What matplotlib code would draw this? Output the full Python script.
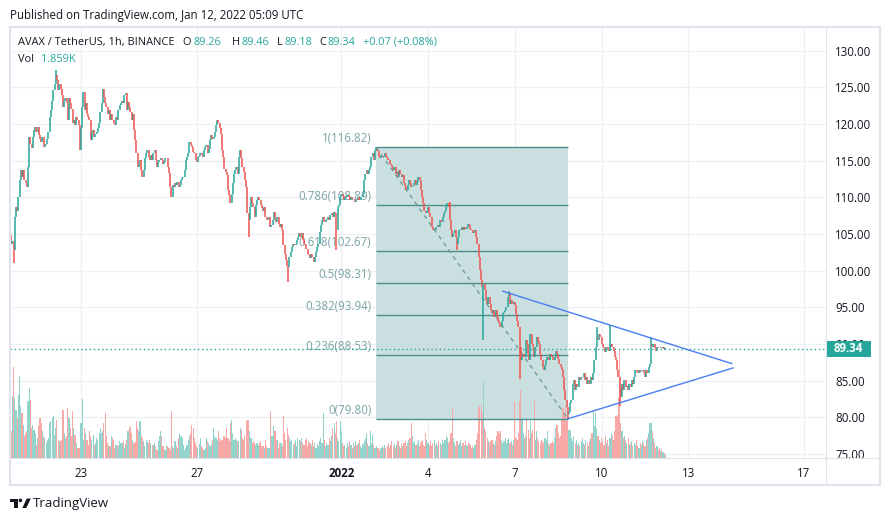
import numpy as np
import pandas as pd
import matplotlib
matplotlib.use("Agg")
import matplotlib.pyplot as plt
import matplotlib.dates as mdates
import matplotlib.transforms as mtransforms
from matplotlib.patches import Rectangle, Polygon, Ellipse
from matplotlib.lines import Line2D

plt.rcParams['font.family'] = ['Open Sans', 'DejaVu Sans']

# ---------------- data (AVAX / USDT, 1h) ----------------
last_bar = "2022-01-12 05:00"
first_open = 104.0

closes = [
    # Dec 20 - Dec 26
    104.8, 103.7, 104.1, 102.8, 107.3, 108.7, 108.2, 110.1, 112.3,
    113.7, 112.8, 113.7, 112.3, 111.9, 111.4, 114.2, 118.2, 117.3,
    116.7, 118.2, 119.2, 119.6, 118.9, 119.6, 118.5, 118.0, 117.6,
    118.2, 116.9, 117.1, 117.3, 118.0, 118.9, 121.0, 121.9, 123.2,
    124.6, 125.5, 126.7, 126.0, 124.6, 125.5, 124.8, 123.9, 122.3,
    123.2, 123.5, 122.8, 120.5, 123.5, 122.8, 122.1, 120.1, 120.5,
    119.8, 121.0, 120.5, 119.8, 116.4, 119.4, 122.3, 124.4, 121.9,
    122.8, 121.4, 121.0, 120.5, 117.8, 118.9, 119.2, 118.2, 118.7,
    118.9, 119.4, 120.1, 121.7, 122.8, 124.8, 123.7, 122.8, 122.3,
    121.4, 121.9, 120.5, 121.4, 120.5, 120.1, 119.8, 121.0, 120.5,
    121.9, 122.6, 122.8, 123.2, 122.8, 123.9, 124.2, 121.9, 123.0,
    122.3, 121.7, 120.5, 121.4, 119.2, 117.8, 116.0, 114.2, 114.6,
    115.1, 113.7, 112.8, 113.7, 115.3, 116.0, 116.4, 115.5, 115.1,
    115.8, 115.1, 116.0, 116.4, 115.1, 114.2, 114.8, 115.1, 115.3,
    115.1, 114.6, 114.8, 115.3, 115.3, 114.2, 113.3, 111.4, 110.1,
    # Dec 26 - Jan 1
    111.7, 111.4, 111.9, 111.7, 112.1, 111.4, 111.7, 112.3, 112.6, 112.8,
    113.7, 115.1, 115.5, 116.0, 117.6, 117.1, 116.9, 116.2, 116.0, 115.1,
    114.8, 115.5, 115.7, 116.0, 115.8, 115.5, 116.4, 116.9, 117.1, 116.0,
    116.6, 117.8, 118.5, 118.0, 118.2, 118.9, 119.8, 120.5, 120.1, 119.4,
    118.7, 116.4, 115.5, 113.9, 113.5, 113.0, 111.0, 110.3, 109.2, 110.5,
    111.9, 113.2, 113.7, 114.2, 113.2, 115.5, 116.4, 115.3, 114.2, 113.5,
    112.3, 111.4, 107.8, 106.9, 108.7, 110.1, 109.2, 108.7, 107.3, 108.9,
    109.6, 110.1, 109.6, 108.9, 108.5, 108.2, 108.7, 107.3, 106.9, 107.1,
    107.3, 106.0, 106.2, 106.9, 108.0, 107.3, 106.7, 107.3, 106.4, 106.0,
    106.4, 105.5, 103.5, 102.3, 101.4, 100.7, 100.5, 101.9, 102.6, 103.2,
    103.7, 103.5, 103.7, 104.2, 104.6, 105.1, 104.6, 105.1, 104.2, 103.7,
    103.5, 103.0, 102.3, 102.1, 101.7, 102.3, 101.9, 101.2, 101.9, 102.6,
    103.2, 103.7, 105.3, 106.2, 106.9, 107.3, 106.7, 106.9, 107.1, 107.3,
    106.9, 107.6, 107.8, 107.3, 108.0, 107.8, 105.5, 108.7, 108.9,
    # Jan 1 - Jan 6
    110.1, 110.5, 110.2, 109.6, 109.9, 110.1, 110.3, 110.0, 109.6, 110.1,
    109.8, 109.8, 109.4, 109.7, 109.6, 110.1, 109.6, 110.0, 110.1, 110.5,
    112.3, 113.2, 113.7, 113.2, 113.7, 114.1, 115.5, 116.0, 115.1, 116.4,
    116.6, 116.3, 115.5, 115.3, 115.6, 115.7, 115.5, 116.0, 115.7, 115.3,
    115.1, 114.6, 114.4, 114.2, 113.7, 114.2, 113.2, 113.4, 112.8, 113.7,
    113.2, 112.8, 113.0, 111.9, 111.5, 111.0, 111.7, 112.3, 111.9, 111.4,
    111.6, 111.9, 112.3, 111.7, 112.1, 112.8, 112.3, 111.0, 110.1,
    109.2, 108.2, 107.8, 108.2, 108.7, 107.8, 107.3, 106.0, 105.5, 105.7,
    105.5, 106.0, 106.2, 106.0, 106.9, 106.6, 107.3, 107.8, 108.2, 108.7,
    109.2, 108.7, 106.9, 105.5, 104.6, 105.1, 105.5, 104.6, 103.7, 104.6,
    105.5, 105.7, 106.0, 105.5, 106.0, 105.7, 106.0, 106.4, 106.2, 105.7,
    105.5, 105.1, 105.3, 105.5, 104.6, 103.7, 101.9, 100.1, 98.7, 97.8,
    98.2, 97.3, 96.0, 95.5, 96.4, 95.5, 94.6, 94.2, 94.6, 93.7,
    94.6, 93.7, 93.2, 92.8, 92.3, 93.2, 94.2, 94.4,
    # Jan 6 - Jan 12
    94.6, 95.1, 96.4, 96.9, 95.5, 96.0, 95.5, 95.7, 95.3, 94.1,
    93.2, 92.3, 89.6, 87.8, 88.2, 88.7, 88.2, 90.5, 90.0, 88.7,
    87.8, 91.4, 90.0, 89.6, 88.2, 89.6, 91.0, 90.4, 90.0, 88.7,
    87.8, 86.9, 86.4, 87.2, 87.8, 88.2, 87.8, 88.7, 88.4, 88.2,
    87.8, 88.2, 89.1, 88.7, 87.9, 87.3, 86.9, 86.4, 85.5,
    83.7, 82.3, 81.4, 80.5, 80.7, 81.9, 82.3, 84.6, 85.1,
    83.7, 84.6, 84.1, 85.5, 85.1, 85.3, 85.5, 86.0, 85.1, 85.5,
    84.6, 85.1, 84.6, 85.5, 85.1, 86.0, 87.8, 89.6, 91.0, 90.5,
    91.4, 91.0, 90.0, 89.6, 89.4, 88.9, 89.6, 89.3, 89.1, 89.6,
    90.0, 89.6, 89.1, 88.2, 87.8, 86.4, 85.5, 84.1, 82.8, 84.6,
    83.7, 85.1, 84.1, 84.3, 83.7, 84.6, 84.1, 85.1, 84.6, 85.5,
    86.4, 86.2, 86.0, 86.4, 86.2, 86.3, 86.4, 86.0, 85.5, 86.4,
    86.0, 86.9, 87.3, 90.0, 89.6, 90.0, 89.4, 89.1, 89.6, 89.5,
    89.4, 89.6, 89.4, 89.6, 89.26, 89.34,
]

volumes = [
    27, 27, 62, 91, 60, 48, 40, 63, 82, 52, 45, 33, 22, 25, 27, 57, 70, 58, 30, 33,
    28, 25, 13, 20, 32, 40, 35, 27, 22, 20, 15, 18, 20, 35, 37, 40, 42, 23, 30, 38,
    18, 17, 17, 18, 48, 25, 20, 22, 50, 40, 30, 22, 47, 30, 23, 15, 10, 10, 10, 35,
    59, 18, 30, 25, 18, 13, 27, 22, 18, 23, 13, 15, 20, 18, 25, 30, 25, 27, 35, 45,
    22, 15, 12, 12, 22, 20, 18, 10, 13, 13, 12, 17, 15, 15, 17, 10, 14, 18, 27, 30,
    32, 25, 18, 15, 17, 37, 30, 27, 37, 22, 20, 17, 12, 18, 16, 15, 18, 15, 13, 13,
    15, 12, 8, 17, 22, 27, 22, 12, 8, 8, 12, 12, 10, 8, 47, 12, 10, 17, 12, 10,
    20, 25, 22, 20, 13, 8, 10, 13, 18, 22, 25, 33, 30, 20, 15, 12, 10, 14, 20, 12,
    10, 8, 10, 20, 17, 15, 12, 14, 18, 30, 22, 20, 18, 27, 20, 17, 18, 22, 22, 20,
    30, 20, 17, 35, 38, 25, 18, 20, 18, 17, 17, 30, 28, 20, 18, 22, 37, 38, 38, 27,
    20, 15, 17, 15, 13, 15, 13, 15, 17, 12, 12, 10, 18, 12, 10, 10, 47, 22, 22, 32,
    27, 18, 18, 10, 15, 15, 12, 42, 25, 18, 30, 23, 20, 17, 18, 13,
    15, 18, 12, 20, 18, 17, 20, 15, 13, 18, 20, 12, 17, 15, 13, 18, 12, 15, 10, 14,
    12, 17, 20, 15, 45, 18, 12, 15, 13, 20, 17, 22, 30, 35, 25, 37, 20, 17, 37, 27,
    15, 12, 13, 10, 15, 12, 17, 13, 10, 15, 12, 17, 13, 15, 18, 12, 10, 14, 17, 20,
    25, 15, 12, 27, 15, 23, 13, 10, 12, 10, 10, 8, 10, 12, 10, 13, 10, 12, 15, 10,
    13, 17, 12, 15, 10, 13, 17, 12, 10, 14, 12, 15, 17, 12, 15, 18, 20, 35, 22, 15,
    17, 13, 15, 18, 12, 15, 17, 13, 12, 25, 18, 15, 13, 17, 12, 15, 18, 13, 15, 12,
    17, 15, 13, 18, 15, 18, 22, 20, 15, 17, 25, 49, 20, 15, 12, 17, 13, 15, 18, 12,
    15, 13, 17, 13, 12, 15, 13, 10, 12, 10, 13, 18, 25, 50, 52, 53, 45, 77, 30, 27,
    20, 17, 15, 17, 18, 15, 13, 17, 22, 27, 25, 27, 18, 15, 17, 20, 15, 18, 20, 15,
    17, 13, 18, 56, 20, 18, 25, 57, 68, 38, 25, 20, 22, 38, 28, 20, 37, 25, 28, 57,
    18, 27, 20, 17, 15, 18, 17, 15, 20, 18, 27, 15, 13, 15, 17, 15, 20, 30, 33, 25,
    20, 22, 38, 50, 45, 52, 37, 40, 28, 28, 20, 17, 22, 15, 18, 13, 15, 12, 17, 20,
    15, 13, 18, 15, 12, 17, 20, 25, 47, 32, 45, 30, 22, 18, 15, 20, 17, 13, 22, 15,
    18, 12, 20, 25, 22, 18, 27, 42, 43, 60, 108, 35, 27, 20, 22, 18, 15, 20, 13, 15,
    17, 12, 15, 13, 18, 12, 10, 15, 13, 17, 15, 12, 18, 20, 25, 35, 35, 27, 20, 15,
    10, 12, 8, 10, 7, 8, 6, 5, 3,
]

# long wicks that stand out from the bodies
spike_times = ["2021-12-20 16:00", "2021-12-22 03:00", "2021-12-28 19:00",
               "2021-12-30 04:00", "2021-12-31 20:00", "2022-01-02 05:00",
               "2022-01-04 18:00", "2022-01-05 00:00", "2022-01-05 22:00",
               "2022-01-06 19:00", "2022-01-07 04:00", "2022-01-08 20:00",
               "2022-01-09 20:00", "2022-01-10 07:00", "2022-01-10 15:00",
               "2022-01-11 17:00", "2022-01-12 05:00"]
spike_high = [np.nan, 127.3, np.nan, np.nan, np.nan, 116.82, 109.3, np.nan, np.nan,
              97.2, np.nan, np.nan, 92.3, 92.6, np.nan, 91.0, 89.46]
spike_low = [101.1, np.nan, 104.6, 98.5, 102.8, np.nan, np.nan, 102.8, 90.5,
             np.nan, 85.2, 79.80, np.nan, np.nan, 81.6, np.nan, 89.18]

fib_start, fib_end = "2022-01-02 05:00", "2022-01-08 20:00"
fib_levels = ["1", "0.786", "0.618", "0.5", "0.382", "0.236", "0"]
fib_prices = [116.82, 108.89, 102.67, 98.31, 93.94, 88.53, 79.80]

tri_upper_t = ["2022-01-06 14:00", "2022-01-14 12:00"]
tri_upper_p = [97.2, 87.33]
tri_lower_t = ["2022-01-08 20:00", "2022-01-14 13:00"]
tri_lower_p = [79.80, 86.73]

price_ticks = list(range(75, 131, 5))
date_ticks = ["2021-12-23", "2021-12-27", "2022-01-01", "2022-01-04",
              "2022-01-07", "2022-01-10", "2022-01-13", "2022-01-17"]
date_labels = ["23", "27", "2022", "4", "7", "10", "13", "17"]

header = "AVAX / TetherUS, 1h, BINANCE"
ohlc_keys = ["O", "H", "L", "C"]
ohlc_vals = ["89.26", "89.46", "89.18", "89.34"]
change_txt = "+0.07 (+0.08%)"
vol_txt = "1.859K"

# ---------------- styling ----------------
UP, DOWN = '#26a69a', '#ef5350'
TXT = '#131722'
GRID = '#eff0f4'
BORDER = '#e0e3eb'
FIB_BG = '#cadfe0'
FIB_LINE = '#4b8f8c'
FIB_TXT = '#7ba3a5'
TRI = '#4a7ef0'

W, H = 891, 521
fig = plt.figure(figsize=(W / 100, H / 100), dpi=100)
fig.patch.set_facecolor('white')
rect = [10 / W, 1 - 458 / H, 816 / W, 431 / H]

ax_v = fig.add_axes(rect, zorder=0)
ax = fig.add_axes(rect, zorder=1)
ax.patch.set_alpha(0)

jan1 = mdates.date2num(pd.Timestamp("2022-01-01"))
xlim = (jan1 - 11.456, jan1 + 16.76)
ylim = (74.45, 133.23)
for a in (ax, ax_v):
    a.set_xlim(*xlim)
ax.set_ylim(*ylim)
ax_v.set_ylim(0, max(volumes) * 3.99)
ax_v.axis('off')

# candles
closes = np.array(closes)
dates = pd.date_range(end=last_bar, periods=len(closes), freq="h")
x = mdates.date2num(dates)
opens = np.r_[first_open, closes[:-1]]
highs = np.maximum(opens, closes)
lows = np.minimum(opens, closes)
for t, hi, lo in zip(spike_times, spike_high, spike_low):
    k = dates.get_loc(pd.Timestamp(t))
    if not np.isnan(hi):
        highs[k] = max(highs[k], hi)
    if not np.isnan(lo):
        lows[k] = min(lows[k], lo)
up = closes >= opens
ccol = np.where(up, UP, DOWN)

# grid (drawn under everything)
tick_x = mdates.date2num(pd.to_datetime(date_ticks))
for tx in tick_x:
    ax_v.axvline(tx, color=GRID, lw=1.0, zorder=0.5)
for p in price_ticks:
    ax_v.plot([0, 1], [p, p], transform=ax.get_yaxis_transform(),
              color=GRID, lw=1.0, zorder=0.5)

# fib background
fs = mdates.date2num(pd.Timestamp(fib_start))
fe = mdates.date2num(pd.Timestamp(fib_end))
ax_v.add_patch(Rectangle((fs, fib_prices[-1]), fe - fs, fib_prices[0] - fib_prices[-1],
                         transform=ax.transData, facecolor=FIB_BG, edgecolor='none',
                         zorder=1))

# volume
vcol = np.where(up, '#92d3cc', '#f7a9a7')
ax_v.bar(x, volumes, width=0.95 / 24, color=vcol, linewidth=0, zorder=2)

# fib lines + labels
ax.hlines(fib_prices, fs, fe, colors=FIB_LINE, lw=1.0, zorder=2)
for lvl, p in zip(fib_levels, fib_prices):
    ax.annotate(f"{lvl}({p:.2f})", xy=(fs, p), xytext=(-5, 2),
                textcoords='offset pixels', ha='right', va='bottom',
                color=FIB_TXT, fontsize=8.3, zorder=1)
ax.plot([fs, fe], [fib_prices[0], fib_prices[-1]], color='#6f9c9c',
        lw=1.0, ls=(0, (3, 3)), zorder=2)

# last price dotted line
ax.axhline(closes[-1], color=UP, lw=1.0, ls=(0, (1, 2)), zorder=3)

# candles
ax.vlines(x, lows, highs, colors=ccol, lw=1.1, zorder=4)

# triangle
ax.plot(mdates.date2num(pd.to_datetime(tri_upper_t)), tri_upper_p, color=TRI, lw=1.0, zorder=5)
ax.plot(mdates.date2num(pd.to_datetime(tri_lower_t)), tri_lower_p, color=TRI, lw=1.0, zorder=5)

# axes ticks
ax.set_yticks(price_ticks)
ax.set_yticklabels([f"{p:.2f}" for p in price_ticks])
ax.yaxis.tick_right()
ax.tick_params(axis='y', length=0, pad=6.5, labelsize=8.3, labelcolor=TXT)
ax.set_xticks(tick_x)
ax.set_xticklabels(date_labels)
ax.tick_params(axis='x', length=0, pad=6.5, labelsize=8.3, labelcolor=TXT)
for lbl in ax.get_xticklabels():
    if lbl.get_text() == "2022":
        lbl.set_fontweight('bold')
for s in ax.spines.values():
    s.set_visible(False)

# last price tag on the price scale
trans = mtransforms.blended_transform_factory(ax.transAxes, ax.transData)
ax.add_patch(Rectangle((1.0, closes[-1] - 1.09), 45 / 816, 2.18, transform=trans,
                       facecolor=UP, edgecolor='none', clip_on=False, zorder=10))
ax.text(1 + 22.5 / 816, closes[-1], f"{closes[-1]:.2f}", transform=trans,
        ha='center', va='center', color='white', fontsize=8.3,
        fontweight='bold', zorder=11, clip_on=False)


# frame lines (pixel coords)
def fl(x0, y0, x1, y1, lw):
    fig.add_artist(Line2D([x0 / W, x1 / W], [1 - y0 / H, 1 - y1 / H],
                          transform=fig.transFigure, color=BORDER, lw=lw))


fl(10, 27, 880, 27, 1.5)
fl(10, 485, 880, 485, 1.5)
fl(10, 27, 10, 485, 1.5)
fl(880, 27, 880, 485, 1.5)
fl(826, 27, 826, 485, 0.8)
fl(10, 458, 880, 458, 0.8)


# texts
def ft(px, py, s, size=8.3, **kw):
    fig.text(px / W, 1 - py / H, s, va='center', ha='left', fontsize=size, **kw)


ft(10, 15, "Published on TradingView.com, Jan 12, 2022 05:09 UTC", color=TXT)
ft(18, 42.5, header, size=7.95, color=TXT)
for kx, vx, k, v in zip([182, 232, 277, 319], [193, 241, 284.5, 327.5], ohlc_keys, ohlc_vals):
    ft(kx, 42.5, k, size=7.95, color=TXT)
    ft(vx, 42.5, v, size=7.95, color=UP)
ft(363, 42.5, change_txt, size=7.95, color=UP)
ft(18, 60, "Vol", size=7.95, color=TXT)
ft(41.5, 60, vol_txt, size=7.95, color=UP)


# TradingView logo
def P(pts):
    return [(px / W, 1 - py / H) for px, py in pts]


for poly in ([(10, 498.5), (17.5, 498.5), (17.5, 502.3), (10, 502.3)],
             [(13.7, 498.5), (17.5, 498.5), (17.5, 508), (13.7, 508)],
             [(22.3, 508), (26.3, 508), (30.8, 498.5), (26.8, 498.5)]):
    fig.add_artist(Polygon(P(poly), closed=True, transform=fig.transFigure,
                           facecolor=TXT, edgecolor='none'))
fig.add_artist(Ellipse((20.4 / W, 1 - 500.4 / H), 3.6 / W, 3.6 / H,
                       transform=fig.transFigure, facecolor=TXT, edgecolor='none'))
ft(33, 503, "TradingView", size=9.5, color=TXT)

fig.savefig("out.png", dpi=100, facecolor='white')
